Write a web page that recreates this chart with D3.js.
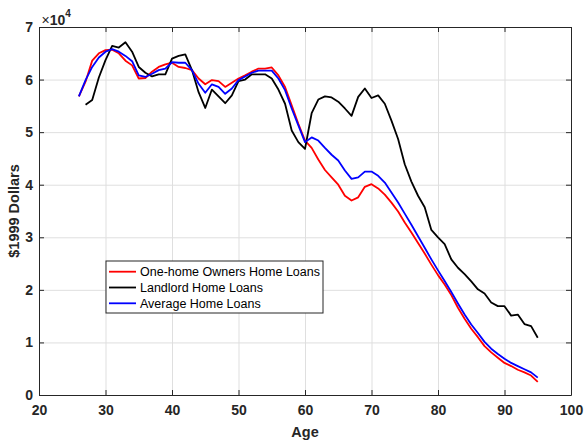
<!DOCTYPE html>
<html>
<head>
<meta charset="utf-8">
<script src="https://cdn.jsdelivr.net/npm/d3@7"></script>
<style>
  body { margin: 0; background: #fff; }
  svg { display: block; font-family: 'Liberation Sans', Arial, sans-serif; }
</style>
</head>
<body>
<svg class="chart" width="584" height="441"></svg>
<script>
const ages = d3.range(26, 96);
// dollars, one value per age 26..95
const oneHome = [56800, 59600, 63600, 65000, 65600, 65700, 65000, 63600, 62700, 60200,
  60300, 61500, 62400, 62900, 63200, 62400, 62200, 61800, 60200, 59100,
  59900, 59700, 58600, 59400, 60200, 60800, 61500, 62100, 62100, 62300,
  60800, 58600, 55100, 51600, 48400, 47000, 44800, 42800, 41400, 40000,
  37900, 37000, 37600, 39600, 40100, 39300, 38100, 36600, 34900, 32800,
  30900, 28900, 26900, 24800, 22800, 21000, 19000, 16600, 14500, 12600,
  11000, 9300, 8100, 7100, 6100, 5500, 4800, 4300, 3700, 2500];
const landlord = [null, 55200, 56100, 60400, 63700, 66400, 66100, 67100, 65300, 62400,
  61300, 60600, 61000, 61000, 64000, 64500, 64800, 61800, 57600, 54600,
  58100, 56800, 55500, 57000, 59700, 60000, 61000, 61000, 61000, 60200,
  58100, 55400, 50300, 48100, 46800, 53600, 56200, 56800, 56600, 55800,
  54500, 53100, 56700, 58300, 56500, 57000, 55400, 52200, 48700, 43900,
  40600, 37900, 35700, 31400, 30000, 28700, 25800, 24200, 23000, 21600,
  20100, 19300, 17600, 16900, 16900, 15100, 15300, 13500, 13100, 10900];
const average = [56800, 59900, 62400, 64200, 65300, 65800, 65300, 64500, 63500, 60800,
  60500, 61100, 61800, 62100, 63300, 63200, 63200, 61800, 59200, 57500,
  59100, 58600, 57300, 58300, 59900, 60600, 61300, 61700, 61700, 61700,
  60200, 58000, 54500, 51300, 48100, 49000, 48400, 47000, 45700, 44600,
  42700, 41100, 41400, 42500, 42500, 41700, 40400, 38500, 36600, 34500,
  32400, 30200, 28000, 25800, 23700, 21700, 19600, 17400, 15300, 13400,
  11800, 10100, 8800, 7800, 6900, 6100, 5500, 4900, 4300, 3300];

const seriesNames = ["One-home Owners Home Loans", "Landlord Home Loans", "Average Home Loans"];
const seriesColors = ["#ff0000", "#000000", "#0000ff"];
const xTicks = [20, 30, 40, 50, 60, 70, 80, 90, 100];
const yTicks = [0, 10000, 20000, 30000, 40000, 50000, 60000, 70000];

const margin = {left: 39, top: 27, right: 13, bottom: 46};
const W = 584, H = 441;
const axisCol = '#262626';

const svg = d3.select('svg.chart');

const x = d3.scaleLinear().domain([20, 100]).range([margin.left, W - margin.right]);
const y = d3.scaleLinear().domain([0, 70000]).range([H - margin.bottom, margin.top]);

// grid
svg.append('g')
  .attr('transform', `translate(0, ${y(0)})`)
  .call(d3.axisBottom(x).tickValues(xTicks).tickSize(-(y(0) - y(70000))).tickFormat(''))
  .call(g => g.select('.domain').remove())
  .call(g => g.selectAll('line').attr('stroke', '#dfdfdf'));
svg.append('g')
  .attr('transform', `translate(${x(20)}, 0)`)
  .call(d3.axisLeft(y).tickValues(yTicks).tickSize(-(x(100) - x(20))).tickFormat(''))
  .call(g => g.select('.domain').remove())
  .call(g => g.selectAll('line').attr('stroke', '#dfdfdf'));

// lines
const line = d3.line()
  .defined(d => d[1] != null)
  .x(d => x(d[0]))
  .y(d => y(d[1]));

[oneHome, landlord, average].forEach((vals, i) => {
  svg.append('path')
    .datum(ages.map((a, j) => [a, vals[j]]))
    .attr('fill', 'none')
    .attr('stroke', seriesColors[i])
    .attr('stroke-width', 1.8)
    .attr('stroke-linejoin', 'round')
    .attr('d', line);
});

// axes
function styleAxis(g) {
  g.select('.domain').attr('stroke', axisCol).attr('stroke-width', 1);
  g.selectAll('.tick line').attr('stroke', axisCol);
  g.selectAll('.tick text')
    .attr('fill', axisCol)
    .style('font-size', '14px')
    .style('font-weight', 'bold');
}

svg.append('g')
  .attr('transform', `translate(0, ${y(0)})`)
  .call(d3.axisBottom(x).tickValues(xTicks).tickSize(-5).tickSizeOuter(0).tickPadding(10).tickFormat(d3.format('d')))
  .call(styleAxis);
svg.append('g')
  .attr('transform', `translate(${x(20)}, 0)`)
  .call(d3.axisLeft(y).tickValues(yTicks).tickSize(-5).tickSizeOuter(0).tickPadding(6).tickFormat(d => d / 10000))
  .call(styleAxis);
svg.append('g')
  .attr('transform', `translate(0, ${y(70000)})`)
  .call(d3.axisTop(x).tickValues(xTicks).tickSize(-5).tickSizeOuter(0).tickFormat(''))
  .call(styleAxis);
svg.append('g')
  .attr('transform', `translate(${x(100)}, 0)`)
  .call(d3.axisRight(y).tickValues(yTicks).tickSize(-5).tickSizeOuter(0).tickFormat(''))
  .call(styleAxis);

// exponent
const ex = svg.append('text')
  .attr('x', x(20) + 2.5)
  .attr('y', 24.5)
  .attr('fill', axisCol)
  .style('font-size', '14px')
  .style('font-weight', 'bold');
ex.append('tspan').style('font-weight', 'normal').text('\u00d7');
ex.append('tspan').text('10');
ex.append('tspan').attr('dy', -8).style('font-size', '10px').text('4');

// axis labels
svg.append('text')
  .attr('x', (x(20) + x(100)) / 2)
  .attr('y', 437)
  .attr('text-anchor', 'middle')
  .attr('fill', axisCol)
  .style('font-size', '14.5px')
  .style('font-weight', 'bold')
  .text('Age');
svg.append('text')
  .attr('transform', `translate(19, ${(y(0) + y(70000)) / 2}) rotate(-90)`)
  .attr('text-anchor', 'middle')
  .attr('fill', axisCol)
  .style('font-size', '14.5px')
  .style('font-weight', 'bold')
  .text('$1999 Dollars');

// legend
const leg = svg.append('g').attr('transform', 'translate(106, 261)');
leg.append('rect')
  .attr('width', 217).attr('height', 52)
  .attr('fill', '#fff').attr('stroke', axisCol).attr('stroke-width', 1);
seriesNames.forEach((name, i) => {
  const row = leg.append('g').attr('transform', `translate(0, ${10.7 + i * 15.8})`);
  row.append('line')
    .attr('x1', 3).attr('x2', 30)
    .attr('stroke', seriesColors[i]).attr('stroke-width', 1.8);
  row.append('text')
    .attr('x', 34).attr('dy', '0.35em')
    .style('font-size', '12.5px')
    .attr('fill', '#000')
    .text(name);
});
</script>
</body>
</html>
